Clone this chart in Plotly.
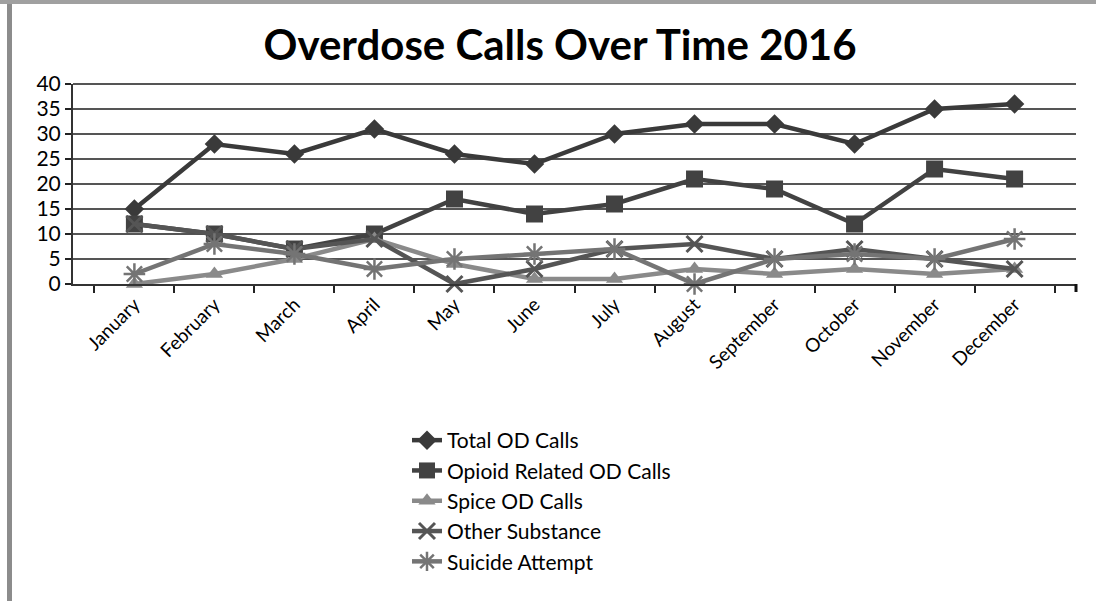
import plotly.graph_objects as go

months = ["January", "February", "March", "April", "May", "June", "July",
          "August", "September", "October", "November", "December"]
total_od = [15, 28, 26, 31, 26, 24, 30, 32, 32, 28, 35, 36]
opioid_od = [12, 10, 7, 10, 17, 14, 16, 21, 19, 12, 23, 21]
spice_od = [0, 2, 5, 9, 4, 1, 1, 3, 2, 3, 2, 3]
other_sub = [12, 10, 7, 9, 0, 3, 7, 8, 5, 7, 5, 3]
suicide = [2, 8, 6, 3, 5, 6, 7, 0, 5, 6, 5, 9]
y_ticks = [0, 5, 10, 15, 20, 25, 30, 35, 40]

FONT = "Lato, 'Open Sans', sans-serif"

fig = go.Figure()

series = [
    ("Total OD Calls", total_od, "#3a3a3a", dict(symbol="diamond", size=15)),
    ("Opioid Related OD Calls", opioid_od, "#424242", dict(symbol="square", size=17)),
    ("Spice OD Calls", spice_od, "#8a8a8a", dict(symbol="triangle-up", size=15)),
    ("Other Substance", other_sub, "#555555", dict(symbol="x-thin-open", size=16, line=dict(width=3, color="#555555"))),
    ("Suicide Attempt", suicide, "#747474", dict(symbol="asterisk-open", size=18, line=dict(width=2.5, color="#747474"))),
]

for name, vals, col, mk in series:
    m = dict(color=col)
    m.update(mk)
    fig.add_trace(go.Scatter(
        x=months, y=vals, name=name, mode="lines+markers",
        line=dict(color=col, width=4.5), marker=m, cliponaxis=False,
    ))

fig.update_layout(
    width=1096, height=601,
    paper_bgcolor="white", plot_bgcolor="white",
    margin=dict(l=73, r=20, t=84, b=317),
    title=dict(text="<b>Overdose Calls Over Time 2016</b>", x=0.511, xanchor="center",
               y=0.925, yanchor="middle",
               font=dict(family=FONT, size=42, color="black")),
    font=dict(family=FONT, color="black"),
    legend=dict(x=0.333, xanchor="left", y=-0.68, yanchor="top",
                font=dict(family=FONT, size=21, color="black"),
                bgcolor="rgba(0,0,0,0)", itemwidth=30, tracegroupgap=0),
    showlegend=True,
    shapes=[
        dict(type="rect", xref="paper", yref="paper",
             x0=(7 - 73) / 1003, x1=(12 - 73) / 1003, y0=(284 - 601) / 200, y1=(284 - 0) / 200,
             fillcolor="#8c8c8c", line=dict(width=0), layer="above"),
        dict(type="rect", xref="paper", yref="paper",
             x0=-73 / 1003, x1=(1096 - 73) / 1003, y0=(284 - 4) / 200, y1=284 / 200,
             fillcolor="#a0a0a0", line=dict(width=0), layer="above"),
        dict(type="line", xref="paper", yref="paper", x0=0, x1=1, y0=1, y1=1,
             line=dict(color="#555555", width=2)),
        dict(type="line", xref="paper", yref="paper", x0=1, x1=1, y0=0, y1=-0.04,
             line=dict(color="#111111", width=3)),
    ],
)

fig.update_xaxes(
    type="category", tickangle=-45, ticks="outside", tickson="boundaries",
    ticklen=7, tickwidth=2, tickcolor="#222222",
    showline=True, linecolor="#333333", linewidth=2,
    showgrid=False, tickfont=dict(family=FONT, size=19, color="black"),
)
fig.update_yaxes(
    range=[0, 40], tickvals=y_ticks, ticks="outside", ticklen=6, tickwidth=2,
    tickcolor="#222222", showline=True, linecolor="#333333", linewidth=2,
    showgrid=True, gridcolor="#555555", gridwidth=2, zeroline=False,
    tickfont=dict(family=FONT, size=21, color="black"),
)

fig.write_html("out.html")
